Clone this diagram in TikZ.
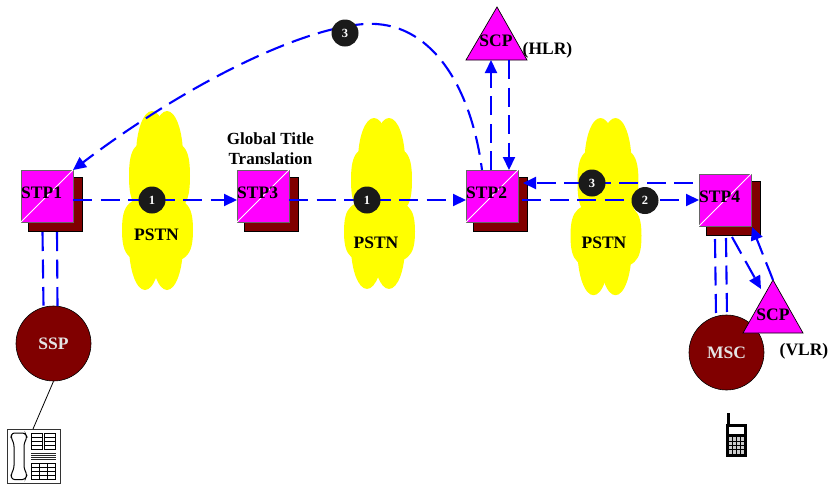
\documentclass[tikz,border=0pt]{standalone}
\usepackage{fontspec}
\setmainfont{Liberation Serif}
\usetikzlibrary{arrows.meta,calc}
\definecolor{mag}{RGB}{255,0,255}
\definecolor{dred}{RGB}{128,0,0}
\definecolor{lblue}{RGB}{0,0,255}
\definecolor{badgec}{RGB}{26,26,26}
\definecolor{cloudy}{RGB}{255,255,0}
\tikzset{
  x=1pt,y=-1pt,
  link/.style={draw=lblue,line width=2.1pt,dash pattern=on 19pt off 8.5pt},
  arrowed/.style={link,-{Triangle[length=13pt,width=12pt,fill=lblue]}},
  stpbox/.style={draw=black!60,line width=0.8pt,fill=mag,minimum size=52pt,inner sep=0pt,outer sep=0pt},
  shade box/.style={draw=black,line width=0.6pt,fill=dred},
  txt/.style={font=\bfseries\fontsize{17.5}{18}\selectfont,inner sep=0pt},
  badge/.style={circle,fill=badgec,minimum size=27pt,inner sep=0pt,text=white,font=\bfseries\fontsize{12.5}{12}\selectfont},
  bigdisc/.style={circle,draw=black,line width=0.6pt,fill=dred,minimum size=75pt,inner sep=0pt,text=white!90!black,font=\bfseries\fontsize{17.5}{18}\selectfont},
  cloudfill/.style={fill=cloudy,draw=none},
  tri/.style={draw=black,line width=0.7pt,fill=mag},
  thinline/.style={draw=black,line width=0.8pt},
}
\newcommand{\softblob}[4]{% cx, cy, half width, half height
  \fill[cloudfill,shift={(#1,#2)},xscale=#3,yscale=#4]
    (-1,0) .. controls (-1,-.8) and (-.8,-1) .. (0,-1)
    .. controls (.8,-1) and (1,-.8) .. (1,0)
    .. controls (1,.8) and (.8,1) .. (0,1)
    .. controls (-.8,1) and (-1,.8) .. (-1,0) -- cycle;
}
\newcommand{\cloudat}[3]{% cx, top, yscale
  \begin{scope}[shift={(#1,#2)},yscale=#3]
    \fill[cloudfill] (-5.5,45) ellipse [x radius=16,y radius=45];
    \fill[cloudfill] (9.5,45) ellipse [x radius=16,y radius=45];
    \softblob{2}{65}{30.5}{36}
    \softblob{0}{119}{35.5}{33}
    \fill[cloudfill] (-12.5,134) ellipse [x radius=16,y radius=45];
    \fill[cloudfill] (9.5,134) ellipse [x radius=16,y radius=45];
  \end{scope}
}
\newcommand{\stp}[4]{% name,x,y,label
  \fill[shade box] ($(#2,#3)+(7,7)$) rectangle ($(#2,#3)+(61,61)$);
  \node[stpbox,anchor=north west] (#1) at (#2,#3) {};
  \draw[white,line width=0.9pt] (#1.south west) -- (#1.north east);
  \node[txt,anchor=west] (#1t) at (#2,#3+23) {#4};
}
\begin{document}
\begin{tikzpicture}
\useasboundingbox (0,0) rectangle (830,485);
\cloudat{157.5}{111}{1}
\cloudat{379.5}{118}{0.955}
\cloudat{606}{118}{0.99}

\stp{stpa}{21}{170}{STP1}
\stp{stpc}{237}{170}{STP3}
\stp{stpb}{466}{170}{STP2}
\stp{stpd}{699}{174}{STP4}

\node[txt] (pstna) at (156.5,235) {PSTN};
\node[txt] (pstnb) at (376,243) {PSTN};
\node[txt] (pstnc) at (604,243) {PSTN};
\node[txt,align=center,font=\bfseries\fontsize{17}{20}\selectfont] (gtt) at (270.5,149) {Global Title\\Translation};

\node[bigdisc] (ssp) at (53.5,343.5) {SSP};
\node[bigdisc] (msc) at (726.5,352.5) {MSC};

\coordinate (hA) at (497,7);\coordinate (hB) at (466,60);\coordinate (hC) at (527,60);
\draw[tri] (hA) -- (hB) -- (hC) -- cycle;
\node[txt] (scph) at (496,41) {SCP};
\node[txt] (hlr) at (547.5,50) {(HLR)};
\coordinate (vA) at (773,280);\coordinate (vB) at (743,333);\coordinate (vC) at (803,333);
\draw[tri] (vA) -- (vB) -- (vC) -- cycle;
\node[txt] (scpv) at (773,315) {SCP};
\node[txt] (vlr) at (804,351) {(VLR)};

% connectors
\draw[arrowed] ([yshift=-4pt]stpa.east) -- ([yshift=-4pt]stpc.west);
\draw[arrowed] ([yshift=-4pt]stpc.east) -- ([yshift=-4pt]stpb.west);
\draw[arrowed] ([yshift=-4pt,xshift=4pt]stpb.east) -- (stpd.west);
\draw[arrowed] ([yshift=17pt,xshift=-6pt]stpd.west) -- ([yshift=13pt,xshift=5pt]stpb.east);
\draw[arrowed] (stpb.north -| 491,0) -- (491,60);
\draw[arrowed] (509,60) -- (stpb.north -| 509,0);
\draw[arrowed,dash phase=12pt] (482,170) .. controls (471,85) and (430,20) .. (365,24) .. controls (300,28) and (185,85) .. (stpa.north east);
\draw[link] (42.5,232) -- (ssp.north -| 43.5,0);
\draw[link] (57,232) -- (57.5,306);
\draw[link] (715,239) -- (716,315);
\draw[link] (726,238) -- (727,315);
\draw[arrowed] (732,237) -- (761,289);
\draw[arrowed] (vA) -- (752,227);
\draw[thinline] (ssp.south) -- (33,429);

% badges
\node[badge] (b1) at (152,200) {1};
\node[badge] (b2) at (367,200) {1};
\node[badge] (b3) at (592,183) {3};
\node[badge] (b4) at (645,200.5) {2};
\node[badge] (b5) at (345,33) {3};

% desk phone
\draw[line width=1pt,draw=black!80,fill=white] (7,429.5) rectangle (60,483);
\draw[line width=1pt,rounded corners=2.5pt,fill=white] (12,433) -- (25,433) -- (27,437) -- (24,444) -- (24,468) -- (27,475) -- (25,479.5) -- (12,479.5) -- (11,475) -- (14,468) -- (14,444) -- (11,437) -- cycle;
\foreach \xa/\xb in {31.5/42.5,44.5/55.5}{
  \draw[line width=0.9pt] (\xa,433) rectangle (\xb,449);
  \foreach \yy in {437,441,445} \draw[line width=0.8pt] (\xa,\yy) -- (\xb,\yy);
}
\foreach \yy in {453,455,457,459} \draw[line width=1pt,black!85] (31,\yy) -- (56,\yy);
\draw[line width=0.9pt] (31.5,463) rectangle (55.5,479);
\foreach \yy in {467,471,475} \draw[line width=0.8pt] (31.5,\yy) -- (55.5,\yy);
\foreach \xx in {39.5,47.5} \draw[line width=0.8pt] (\xx,463) -- (\xx,479);

% mobile
\fill[black] (727,413) rectangle (730,424);
\fill[black] (725.5,423.5) rectangle (747,456.5);
\fill[white] (729,426.5) rectangle (743.5,433.5);
\fill[white!80!black] (729,437) rectangle (743.5,453.5);
\foreach \xx in {732.5,736.5,740} \draw[black,line width=0.9pt] (\xx,437) -- (\xx,453.5);
\foreach \yy in {441,445,449} \draw[black,line width=0.9pt] (729,\yy) -- (743.5,\yy);
\end{tikzpicture}
\end{document}
